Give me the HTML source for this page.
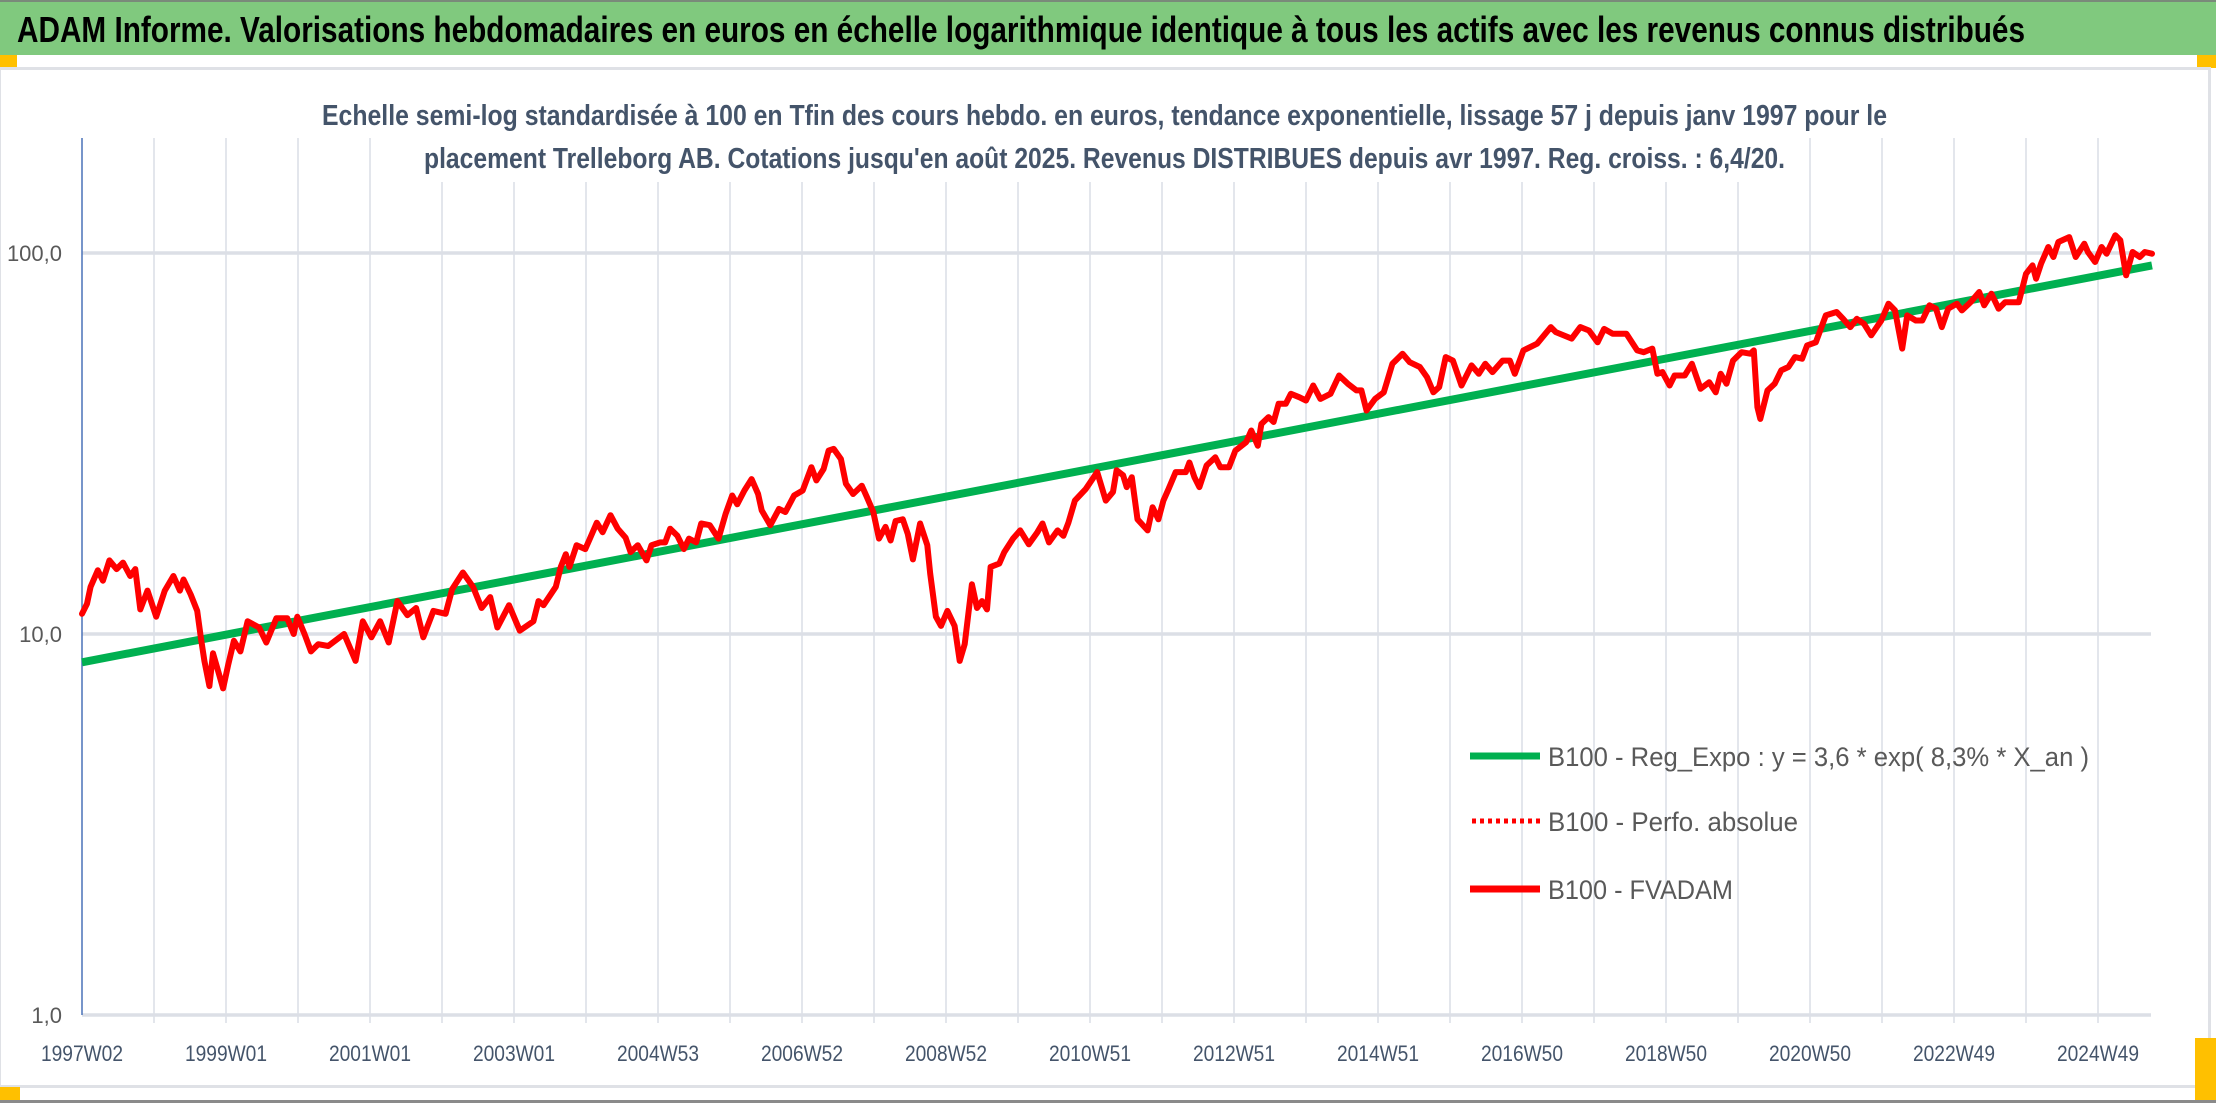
<!DOCTYPE html>
<html><head><meta charset="utf-8">
<style>
html,body{margin:0;padding:0;background:#fff;}
svg{display:block;font-family:"Liberation Sans",sans-serif;}
</style></head>
<body>
<svg id="chart" width="2216" height="1103" viewBox="0 0 2216 1103" xmlns="http://www.w3.org/2000/svg">
  <rect x="0" y="0" width="2216" height="1103" fill="#ffffff"/>
  <rect x="0" y="0" width="2216" height="55" fill="#80c97e"/>
  <rect x="0" y="0" width="2216" height="2" fill="#7a8a7a"/>
  <text x="17" y="42" font-size="36" font-weight="bold" fill="#000" textLength="2008" lengthAdjust="spacingAndGlyphs">ADAM Informe. Valorisations hebdomadaires en euros en échelle logarithmique identique à tous les actifs avec les revenus connus distribués</text>
  <rect x="0" y="55" width="17" height="13" fill="#ffc000"/>
  <rect x="2197" y="55" width="19" height="13" fill="#ffc000"/>
  <rect x="0" y="67" width="2210" height="3" fill="#dfe1e6"/>
  <rect x="2208" y="67" width="3" height="1020" fill="#dfe1e6"/>
  <rect x="0" y="67" width="1" height="1020" fill="#dfe1e6"/>
  <rect x="0" y="1085" width="2210" height="3" fill="#dfe1e6"/>
  <rect x="0" y="1087" width="20" height="14" fill="#ffc000"/>
  <rect x="2195" y="1038" width="21" height="63" fill="#ffc000"/>
  <rect x="0" y="1100" width="2216" height="3" fill="#8a8a8a"/>
  <g id="grid"></g>
  <rect x="420" y="136" width="1370" height="46" fill="#ffffff"/>
  <text x="322" y="125" font-size="29" font-weight="bold" fill="#44546a" textLength="1565" lengthAdjust="spacingAndGlyphs">Echelle semi-log standardisée à 100 en Tfin des cours hebdo. en euros, tendance exponentielle, lissage 57 j depuis janv 1997 pour le</text>
  <text x="424" y="168" font-size="29" font-weight="bold" fill="#44546a" textLength="1361" lengthAdjust="spacingAndGlyphs">placement Trelleborg AB. Cotations jusqu'en août 2025. Revenus DISTRIBUES depuis avr 1997. Reg. croiss. : 6,4/20.</text>
  <g id="axes"></g>
  <g id="series"></g>
  <g id="legend">
    <line x1="1470" y1="756" x2="1540" y2="756" stroke="#00b050" stroke-width="7"/>
    <text x="1548" y="766" font-size="27" fill="#595959" textLength="541" lengthAdjust="spacingAndGlyphs">B100 - Reg_Expo : y = 3,6 * exp( 8,3% *  X_an )</text>
    <line x1="1472" y1="821" x2="1540" y2="821" stroke="#ff0000" stroke-width="5" stroke-dasharray="4,4"/>
    <text x="1548" y="831" font-size="27" fill="#595959" textLength="250" lengthAdjust="spacingAndGlyphs">B100 - Perfo. absolue</text>
    <line x1="1470" y1="889" x2="1540" y2="889" stroke="#ff0000" stroke-width="7"/>
    <text x="1548" y="899" font-size="27" fill="#595959" textLength="185" lengthAdjust="spacingAndGlyphs">B100 - FVADAM</text>
  </g>
</svg>
<script>
// ---- data ----
const xTickLabels = ["1997W02","1999W01","2001W01","2003W01","2004W53","2006W52","2008W52","2010W51","2012W51","2014W51","2016W50","2018W50","2020W50","2022W49","2024W49"];
const yTickValues = [1, 10, 100];
const yTickLabels = ["1,0","10,0","100,0"];
const trendYears = [1997.0, 2025.75];
const trendValues = [8.43, 92.8];
const fvYears = [1997.0,1997.07,1997.12,1997.22,1997.29,1997.38,1997.48,1997.57,1997.67,1997.74,1997.81,1997.91,1998.03,1998.15,1998.27,1998.36,1998.41,1998.51,1998.60,1998.65,1998.70,1998.77,1998.82,1998.89,1998.96,1999.03,1999.11,1999.20,1999.30,1999.46,1999.56,1999.70,1999.85,1999.94,1999.99,2000.09,2000.18,2000.28,2000.42,2000.64,2000.80,2000.90,2001.02,2001.14,2001.26,2001.38,2001.52,2001.64,2001.74,2001.88,2002.05,2002.14,2002.29,2002.43,2002.55,2002.67,2002.77,2002.93,2003.08,2003.27,2003.34,2003.41,2003.58,2003.65,2003.72,2003.77,2003.87,2003.99,2004.06,2004.15,2004.23,2004.34,2004.44,
2004.55,2004.62,2004.72,2004.84,2004.91,2005.03,2005.10,2005.17,2005.27,2005.36,2005.43,2005.53,2005.60,2005.72,2005.84,2005.94,2006.03,2006.10,2006.20,2006.30,2006.39,2006.44,2006.56,2006.68,2006.77,2006.89,2007.01,2007.13,2007.20,2007.30,2007.37,2007.44,2007.54,2007.61,2007.71,2007.83,2007.90,2007.99,2008.07,2008.16,2008.23,2008.30,2008.40,2008.47,2008.54,2008.64,2008.74,2008.78,2008.86,2008.93,2009.02,2009.12,2009.19,2009.26,2009.36,2009.43,2009.50,2009.57,2009.62,2009.74,2009.81,2009.93,2010.03,2010.15,2010.27,2010.34,2010.43,2010.55,2010.63,2010.70,2010.79,2010.94,2011.10,2011.22,2011.32,2011.37,2011.46,2011.51,2011.58,2011.66,
2011.80,2011.87,2011.95,2012.02,2012.09,2012.19,2012.33,2012.38,2012.45,2012.52,2012.62,2012.74,2012.81,2012.93,2013.02,2013.17,2013.24,2013.33,2013.38,2013.48,2013.55,2013.62,2013.72,2013.79,2013.91,2014.00,2014.10,2014.20,2014.34,2014.46,2014.58,2014.70,2014.77,2014.84,2014.96,2015.08,2015.20,2015.34,2015.44,2015.58,2015.68,2015.77,2015.85,2015.94,2016.04,2016.16,2016.30,2016.40,2016.49,2016.59,2016.73,2016.83,2016.90,2017.02,2017.21,2017.40,2017.47,2017.69,2017.81,2017.93,2018.05,2018.14,2018.26,2018.45,2018.60,2018.69,2018.81,2018.88,
2018.95,2019.05,2019.12,2019.26,2019.36,2019.48,2019.60,2019.69,2019.76,2019.84,2019.93,2020.05,2020.17,2020.22,2020.27,2020.31,2020.41,2020.51,2020.60,2020.70,2020.79,2020.89,2020.96,2021.08,2021.22,2021.37,2021.46,2021.56,2021.65,2021.75,2021.85,2021.99,2022.09,2022.18,2022.28,2022.35,2022.47,2022.56,2022.66,2022.75,2022.83,2022.92,2023.04,2023.11,2023.23,2023.35,2023.42,2023.52,2023.62,2023.71,2023.83,2023.90,2024.00,2024.09,2024.14,2024.21,2024.31,2024.38,2024.45,2024.60,2024.69,2024.81,2024.86,2024.96,2025.05,2025.12,2025.24,2025.31,2025.39,2025.48,2025.58,2025.65,2025.75];
const fvValues = [11.3,12.0,13.3,14.7,13.8,15.6,14.8,15.4,14.2,14.8,11.6,13.0,11.1,13.0,14.2,13.0,13.9,12.7,11.5,9.8,8.5,7.3,8.9,8.0,7.2,8.3,9.6,9.0,10.8,10.4,9.5,11.0,11.0,10.0,11.1,10.0,9.0,9.4,9.3,10.0,8.5,10.8,9.8,10.8,9.5,12.2,11.2,11.7,9.8,11.5,11.3,13.1,14.5,13.3,11.7,12.5,10.4,11.9,10.2,10.8,12.2,11.9,13.3,15.0,16.2,15.0,17.1,16.7,17.9,19.6,18.5,20.5,18.9,
17.9,16.4,17.1,15.6,17.1,17.4,17.4,18.9,18.1,16.7,17.8,17.4,19.5,19.3,17.8,20.7,23.1,21.9,23.8,25.5,23.3,21.1,19.3,21.3,20.9,23.1,23.8,27.4,25.3,27.1,30.3,30.6,28.8,24.8,23.3,24.5,22.9,20.9,17.8,19.1,17.6,19.8,20.0,18.3,15.7,19.5,17.1,14.4,11.1,10.5,11.5,10.5,8.5,9.4,13.5,11.7,12.2,11.6,15.0,15.3,16.4,17.8,18.7,17.2,18.5,19.5,17.4,18.7,18.1,19.6,22.4,24.0,26.6,22.4,23.6,26.9,26.1,24.3,25.8,20.0,
18.7,21.5,20.0,22.4,24.0,26.6,26.6,28.2,25.8,24.3,27.7,29.1,27.4,27.4,30.3,31.9,34.2,31.2,35.6,37.1,36.0,40.2,40.2,42.7,41.8,41.0,44.9,41.4,42.7,47.7,45.4,43.6,43.6,38.6,41.4,43.1,51.2,54.4,51.7,50.2,47.2,43.1,44.5,53.3,52.2,44.9,50.7,48.2,51.2,48.7,52.2,52.2,48.2,55.5,57.8,63.9,62.0,59.6,63.9,62.6,58.3,63.2,61.4,61.4,55.5,54.9,56.1,48.2,
48.7,44.9,47.7,47.7,51.2,44.0,45.8,43.1,48.2,45.4,52.2,54.9,54.4,55.5,39.4,36.7,43.6,45.4,49.2,50.2,53.3,52.8,57.2,58.3,68.6,70.0,67.2,63.9,67.2,65.2,60.8,66.5,73.6,70.7,56.1,68.6,66.5,66.5,72.9,71.4,63.9,71.4,73.6,70.7,74.3,79.0,72.9,78.2,71.4,74.3,74.3,74.3,88.2,92.8,85.6,93.8,103.7,97.6,106.9,110.1,97.6,105.8,100.6,94.7,103.7,99.6,111.3,108,87.4,100.6,97.6,100.6,99.6];

// ---- scales ----
const X0 = 82, X1 = 2151, YEAR0 = 1997.0, PX_PER_YEAR = 72;
const Y_AT_1 = 1015, PX_PER_DECADE = 381;
function xScale(year){ return X0 + (year - YEAR0) * PX_PER_YEAR; }
function yScale(v){ return Y_AT_1 - Math.log10(v) * PX_PER_DECADE; }
const NS = "http://www.w3.org/2000/svg";
function mk(tag, attrs, parent){
  const el = document.createElementNS(NS, tag);
  for (const k in attrs) el.setAttribute(k, attrs[k]);
  parent.appendChild(el);
  return el;
}
const grid = document.getElementById('grid');
const axes = document.getElementById('axes');
const series = document.getElementById('series');
const PLOT_TOP = 138;

for (let yr = YEAR0; xScale(yr) <= X1; yr += 1) {
  const x = xScale(yr);
  if (yr === YEAR0) continue;
  const l = mk('line', {x1:x, y1:PLOT_TOP, x2:x, y2:1023, stroke:'#e3e6ec', 'stroke-width':2}, grid);
  
  
}
yTickValues.forEach((v, i) => {
  const y = yScale(v);
  const l = mk('line', {x1:X0, y1:y, x2:X1, y2:y, stroke:'#dcdfe6', 'stroke-width':3.5}, grid);
  
  
  const t = mk('text', {x:62, y:y+8, 'font-size':22, fill:'#595959', 'text-anchor':'end'}, axes);
  
  
  t.textContent = yTickLabels[i];
});
const ax = mk('line', {x1:X0, y1:PLOT_TOP, x2:X0, y2:Y_AT_1, stroke:'#4a72b8', 'stroke-width':1.5}, axes);


xTickLabels.forEach((lab, i) => {
  const x = xScale(YEAR0 + i * 2);
  const t = mk('text', {x:x, y:1061, 'font-size':22, fill:'#44546a', 'text-anchor':'middle', textLength:82, lengthAdjust:'spacingAndGlyphs'}, axes);
  
  
  t.textContent = lab;
});
const tr = mk('path', {d: trendYears.map((yr,i)=>(i?'L':'M')+xScale(yr).toFixed(1)+','+yScale(trendValues[i]).toFixed(1)).join(' '), fill:'none', stroke:'#00b050', 'stroke-width':8}, series);


const d = fvYears.map((yr,i)=>(i?'L':'M')+xScale(yr).toFixed(1)+','+yScale(fvValues[i]).toFixed(1)).join(' ');
const fv = mk('path', {d:d, fill:'none', stroke:'#ff0000', 'stroke-width':6, 'stroke-linejoin':'round', 'stroke-linecap':'round'}, series);


</script>
</body></html>
